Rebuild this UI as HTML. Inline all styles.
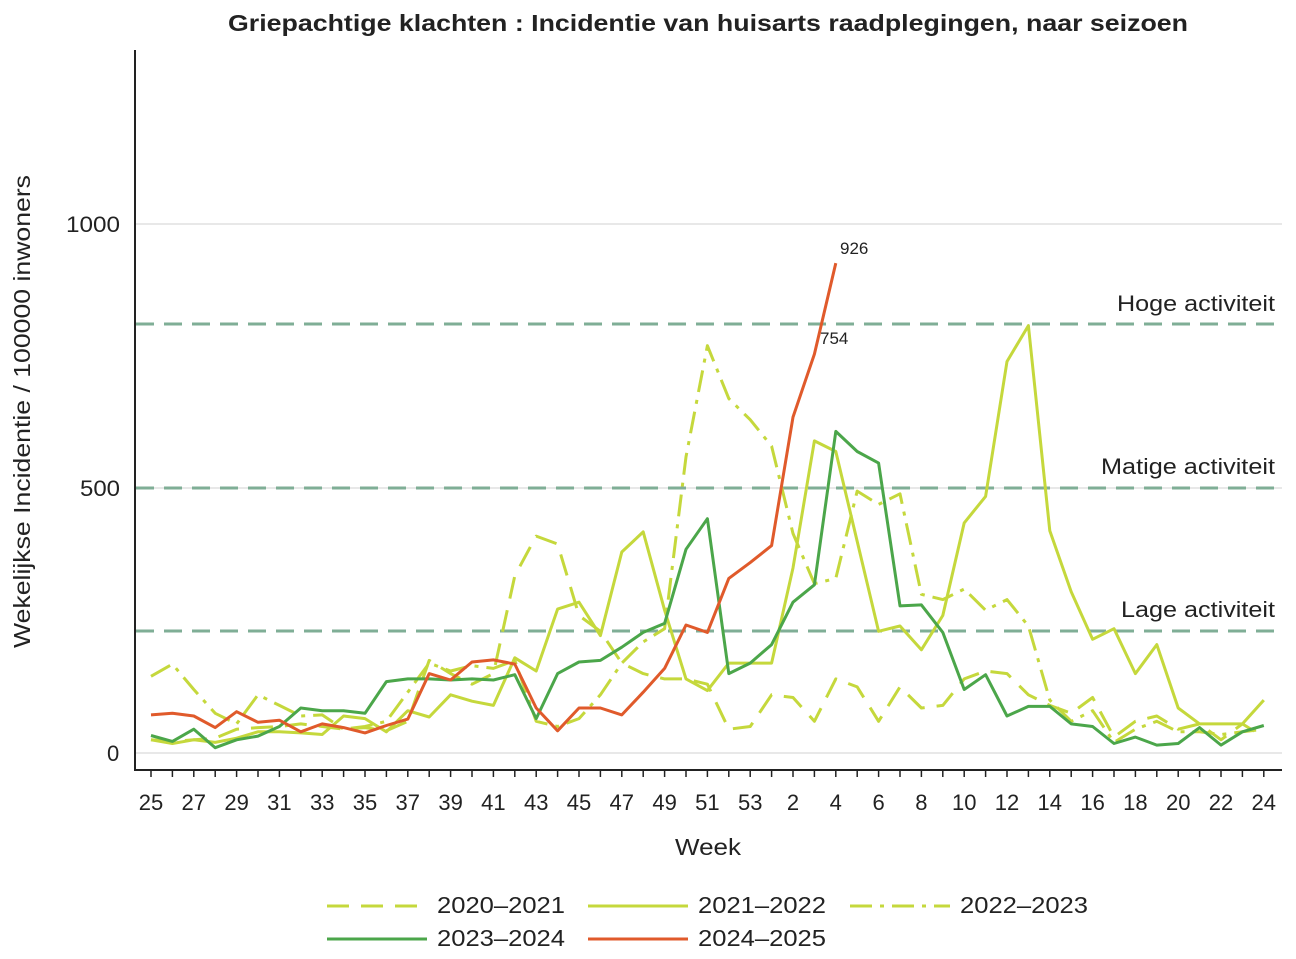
<!DOCTYPE html>
<html><head><meta charset="utf-8"><style>
body{margin:0;background:#fff;}
svg text{font-family:"Liberation Sans",Arial,sans-serif;}
</style></head><body>
<svg id="c" width="1296" height="954" xmlns="http://www.w3.org/2000/svg">
<rect width="1296" height="954" fill="#fff"/>
<text x="228" y="31" font-size="23" font-weight="bold" fill="#222" textLength="960" lengthAdjust="spacingAndGlyphs">Griepachtige klachten : Incidentie van huisarts raadplegingen, naar seizoen</text>
<g stroke="#e8e8e8" stroke-width="2">
<line x1="136" y1="224" x2="1282" y2="224"/><line x1="136" y1="488" x2="1282" y2="488"/><line x1="136" y1="753" x2="1282" y2="753"/>
</g>
<g stroke="#7fae96" stroke-width="3" stroke-dasharray="18,10">
<line x1="136" y1="324" x2="1282" y2="324"/><line x1="136" y1="488" x2="1282" y2="488"/><line x1="136" y1="631" x2="1282" y2="631"/>
</g>
<g font-size="22" fill="#222" lengthAdjust="spacingAndGlyphs">
<text x="1117" y="311" textLength="158" lengthAdjust="spacingAndGlyphs">Hoge activiteit</text>
<text x="1101" y="474" textLength="174" lengthAdjust="spacingAndGlyphs">Matige activiteit</text>
<text x="1121" y="617" textLength="154" lengthAdjust="spacingAndGlyphs">Lage activiteit</text>
<text x="66" y="232" textLength="54" lengthAdjust="spacingAndGlyphs">1000</text>
<text x="80" y="496" textLength="40" lengthAdjust="spacingAndGlyphs">500</text>
<text x="107" y="761">0</text>
</g>
<line x1="135" y1="50" x2="135" y2="771" stroke="#222" stroke-width="2"/>
<line x1="135" y1="770" x2="1282" y2="770" stroke="#222" stroke-width="2"/>
<text transform="translate(30,648) rotate(-90)" font-size="23" fill="#222" textLength="473" lengthAdjust="spacingAndGlyphs">Wekelijkse Incidentie / 100000 inwoners</text>
<text x="675" y="855" font-size="23" fill="#222" textLength="66" lengthAdjust="spacingAndGlyphs">Week</text>
<g id="ticks"></g>
<g id="series" fill="none" stroke-width="3" stroke-linejoin="round"></g>
<text x="840" y="254" font-size="17" fill="#222">926</text>
<text x="820" y="344" font-size="17" fill="#222">754</text>
<g font-size="23" fill="#222">
<line x1="327" y1="906" x2="427" y2="906" stroke="#c5d83c" stroke-width="3" stroke-dasharray="22,12"/><text x="437" y="913" textLength="128" lengthAdjust="spacingAndGlyphs">2020–2021</text>
<line x1="588" y1="906" x2="688" y2="906" stroke="#c5d83c" stroke-width="3"/><text x="698" y="913" textLength="128" lengthAdjust="spacingAndGlyphs">2021–2022</text>
<line x1="850" y1="906" x2="950" y2="906" stroke="#c5d83c" stroke-width="3" stroke-dasharray="22,8,4,8"/><text x="960" y="913" textLength="128" lengthAdjust="spacingAndGlyphs">2022–2023</text>
<line x1="327" y1="939" x2="427" y2="939" stroke="#4ba64a" stroke-width="3"/><text x="437" y="946" textLength="128" lengthAdjust="spacingAndGlyphs">2023–2024</text>
<line x1="588" y1="939" x2="688" y2="939" stroke="#e05a2b" stroke-width="3"/><text x="698" y="946" textLength="128" lengthAdjust="spacingAndGlyphs">2024–2025</text>
</g>
</svg>
<script>
var NS="http://www.w3.org/2000/svg";
function X(i){return 151+21.4*i;}
function Y(v){return 753-0.529*v;}
var wk=[];for(var w=25;w<=53;w++)wk.push(w);for(w=1;w<=24;w++)wk.push(w);
var t=document.getElementById("ticks");
wk.forEach(function(w,i){
 var l=document.createElementNS(NS,"line");l.setAttribute("x1",X(i));l.setAttribute("x2",X(i));l.setAttribute("y1",770);l.setAttribute("y2",777);l.setAttribute("stroke","#222");l.setAttribute("stroke-width","1.5");t.appendChild(l);
 if(i%2==0){var tx=document.createElementNS(NS,"text");tx.setAttribute("x",X(i));tx.setAttribute("y",810);tx.setAttribute("text-anchor","middle");tx.setAttribute("font-size","22");tx.setAttribute("fill","#222");tx.textContent=w;t.appendChild(tx);}
});
var S=[
 {c:"#c5d83c",d:"22,12",v:[25,22,25,28,45,48,50,55,50,45,48,42,60,175,150,130,150,335,410,395,260,230,170,150,140,140,130,45,50,110,105,60,140,125,60,125,85,90,140,155,150,110,90,75,105,30,60,70,45,55,25,55,30]},
 {c:"#c5d83c",d:"",v:[25,18,25,20,28,40,40,38,35,70,65,40,80,68,110,98,90,180,155,272,285,222,380,418,270,140,118,170,170,170,350,590,570,400,230,240,195,260,435,485,740,808,420,305,215,235,150,205,85,55,55,55,100]},
 {c:"#c5d83c",d:"22,8,4,8",v:[145,168,120,75,55,110,90,70,72,45,50,60,115,170,155,165,160,175,60,50,65,110,170,210,235,560,770,670,630,580,415,320,330,495,470,490,300,290,310,270,290,240,100,60,80,20,45,60,40,40,35,40,45]},
 {c:"#4ba64a",d:"",v:[33,22,45,10,25,32,50,85,80,80,75,135,140,140,138,140,138,148,65,150,172,175,200,228,245,385,443,150,170,205,285,318,608,570,548,278,280,228,120,148,70,88,88,55,50,18,30,15,18,48,15,40,52]},
 {c:"#e05a2b",d:"",v:[72,75,70,48,78,58,62,40,55,48,38,52,64,150,138,172,176,168,85,42,85,85,72,115,160,242,228,330,360,392,635,754,926]}
];
var g=document.getElementById("series");
S.forEach(function(s){
 var p=document.createElementNS(NS,"polyline");
 p.setAttribute("points",s.v.map(function(v,i){return X(i).toFixed(1)+","+Y(v).toFixed(1);}).join(" "));
 p.setAttribute("stroke",s.c);if(s.d)p.setAttribute("stroke-dasharray",s.d);
 g.appendChild(p);
});
</script>
</body></html>
